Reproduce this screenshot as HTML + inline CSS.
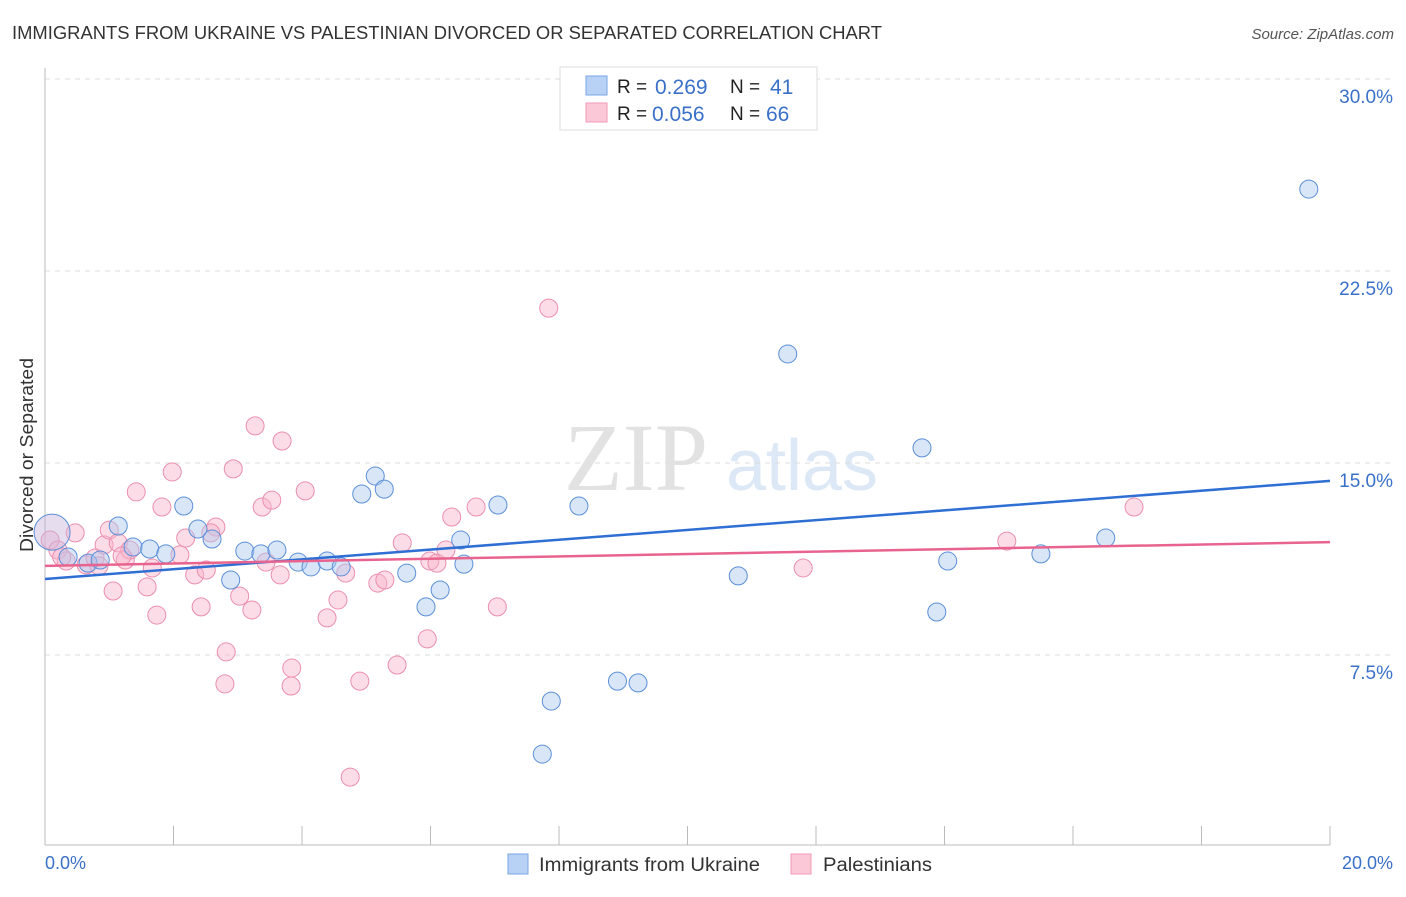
<!DOCTYPE html>
<html><head><meta charset="utf-8"><style>
body{margin:0;background:#fff;font-family:"Liberation Sans",sans-serif}
</style></head><body>
<svg id="c" width="1406" height="892" xmlns="http://www.w3.org/2000/svg">
<text x="12" y="39" font-size="18" fill="#333" textLength="870" lengthAdjust="spacingAndGlyphs">IMMIGRANTS FROM UKRAINE VS PALESTINIAN DIVORCED OR SEPARATED CORRELATION CHART</text>
<text x="1394" y="39" font-size="15" fill="#555" font-style="italic" text-anchor="end">Source: ZipAtlas.com</text>
<text x="636" y="490" font-size="96" fill="#e2e2e2" font-family="Liberation Serif,serif" text-anchor="middle">ZIP</text>
<text x="802" y="490" font-size="72" fill="#dce8f6" text-anchor="middle">atlas</text>
<g id="grid"></g>
<line x1="45" y1="68" x2="45" y2="845" stroke="#bbb"/>
<line x1="45" y1="845" x2="1330" y2="845" stroke="#bbb"/>
<text transform="translate(33,455) rotate(-90)" font-size="18" fill="#333" text-anchor="middle" textLength="194" lengthAdjust="spacingAndGlyphs">Divorced or Separated</text>
<text x="45" y="869" font-size="18" fill="#3a70c8">0.0%</text>
<text x="1393" y="869" font-size="18" fill="#3a70c8" text-anchor="end">20.0%</text>
<g id="pts"></g>
<g id="lines"></g>
<g>
<rect x="560" y="67" width="257" height="63" fill="#fff" stroke="#ddd"/>
<rect x="586" y="76" width="21" height="19" fill="#b8d2f5" stroke="#7aa6e6"/>
<rect x="586" y="103" width="21" height="19" fill="#fbc8d8" stroke="#f29ab6"/>
<text x="617" y="93" font-size="19" fill="#222">R =</text>
<text x="655" y="94" font-size="21" fill="#3a70c8">0.269</text>
<text x="730" y="93" font-size="19" fill="#222">N =</text>
<text x="770" y="94" font-size="21" fill="#3a70c8">41</text>
<text x="617" y="120" font-size="19" fill="#222">R =</text>
<text x="652" y="121" font-size="21" fill="#3a70c8">0.056</text>
<text x="730" y="120" font-size="19" fill="#222">N =</text>
<text x="766" y="121" font-size="21" fill="#3a70c8">66</text>
</g>
<g>
<rect x="508" y="854" width="20" height="20" fill="#b8d2f5" stroke="#7aa6e6"/>
<text x="539" y="871" font-size="19" fill="#333" textLength="221" lengthAdjust="spacingAndGlyphs">Immigrants from Ukraine</text>
<rect x="791" y="854" width="20" height="20" fill="#fbc8d8" stroke="#f29ab6"/>
<text x="823" y="871" font-size="19" fill="#333" textLength="109" lengthAdjust="spacingAndGlyphs">Palestinians</text>
</g>
</svg>
<script>
const yTicks=[7.5,15,22.5,30];
const yTickLabels=["7.5%","15.0%","22.5%","30.0%"];
const xTicks=[0,2,4,6,8,10,12,14,16,18,20];
const blueX=[.11,.36,.67,.86,1.14,1.37,1.63,1.88,2.16,2.38,2.60,2.89,3.11,3.36,3.61,3.94,4.14,4.39,4.61,4.93,5.14,5.28,5.63,5.93,6.15,6.47,6.52,7.05,7.74,7.88,8.31,8.91,9.23,10.79,11.56,13.65,13.88,14.05,15.50,16.51,19.67];
const blueY=[12.30,11.33,11.09,11.21,12.54,11.72,11.64,11.45,13.32,12.42,12.03,10.43,11.56,11.45,11.60,11.13,10.94,11.17,10.94,13.79,14.49,13.98,10.70,9.38,10.04,11.99,11.05,13.36,3.63,5.70,13.32,6.48,6.41,10.59,19.26,15.59,9.18,11.17,11.45,12.07,25.70];
const pinkX=[.08,.20,.33,.47,.64,.78,.84,.92,1.00,1.06,1.14,1.25,1.32,1.42,1.59,1.67,1.74,1.82,1.98,2.10,2.19,2.33,2.43,2.51,2.66,2.58,2.82,2.80,2.93,3.03,3.22,3.27,3.38,3.44,3.53,3.66,3.69,3.83,3.84,4.05,4.39,4.56,4.68,4.75,4.90,5.18,5.29,5.48,5.56,5.95,5.99,6.10,6.24,6.33,6.71,7.04,7.84,11.80,14.97,16.95,.26,1.20];
const pinkY=[11.99,11.60,11.17,12.27,11.02,11.29,10.98,11.80,12.38,10.00,11.88,11.21,11.60,13.87,10.16,10.90,9.06,13.28,14.65,11.41,12.07,10.63,9.38,10.82,12.50,12.27,7.62,6.37,14.77,9.80,9.26,16.45,13.28,11.13,13.55,10.63,15.86,6.29,6.99,13.91,8.95,9.65,10.70,2.73,6.48,10.31,10.43,7.11,11.88,8.13,11.17,11.09,11.60,12.89,13.28,9.38,21.05,10.90,11.95,13.28,11.33,11.37];
const blueTrend=[10.47,14.30];
const pinkTrend=[10.98,11.91];
const NS="http://www.w3.org/2000/svg";
const X=v=>45+v/20*1285, Y=v=>847-v/7.5*192;
function mk(t,a,p){const e=document.createElementNS(NS,t);for(const k in a)e.setAttribute(k,a[k]);p.appendChild(e);return e;}
const grid=document.getElementById('grid');
yTicks.forEach((t,i)=>{
 const l=mk('line',{x1:45,x2:1394,y1:Y(t),y2:Y(t),stroke:'#ddd','stroke-dasharray':'5,5'},grid);
 
 
 const tx=mk('text',{x:1393,y:Y(t)+24,'font-size':19,fill:'#3a70c8','text-anchor':'end'},grid);
 tx.textContent=yTickLabels[i];
 
 
});
xTicks.slice(1).forEach(t=>{
 const l=mk('line',{x1:X(t),x2:X(t),y1:826,y2:845,stroke:'#bbb'},grid);
 
 
});
const pts=document.getElementById('pts');
pinkX.forEach((v,i)=>{
 const c=mk('circle',{cx:X(v),cy:Y(pinkY[i]),r:9,fill:'rgba(248,180,202,0.45)',stroke:'#eb8fae','stroke-width':1},pts);
 
 
});
blueX.forEach((v,i)=>{
 const c=mk('circle',{cx:X(v),cy:Y(blueY[i]),r:i==0?18:9,fill:i==0?'rgba(200,180,220,0.45)':'rgba(170,200,240,0.45)',stroke:'#5b8fd8','stroke-width':1},pts);
 
 
});
const lines=document.getElementById('lines');
const bl=mk('line',{x1:X(0),x2:X(20),y1:Y(blueTrend[0]),y2:Y(blueTrend[1]),stroke:'#2f6fd4','stroke-width':2.5},lines);


const pl=mk('line',{x1:X(0),x2:X(20),y1:Y(pinkTrend[0]),y2:Y(pinkTrend[1]),stroke:'#e8648e','stroke-width':2.5},lines);


</script>
</body></html>
